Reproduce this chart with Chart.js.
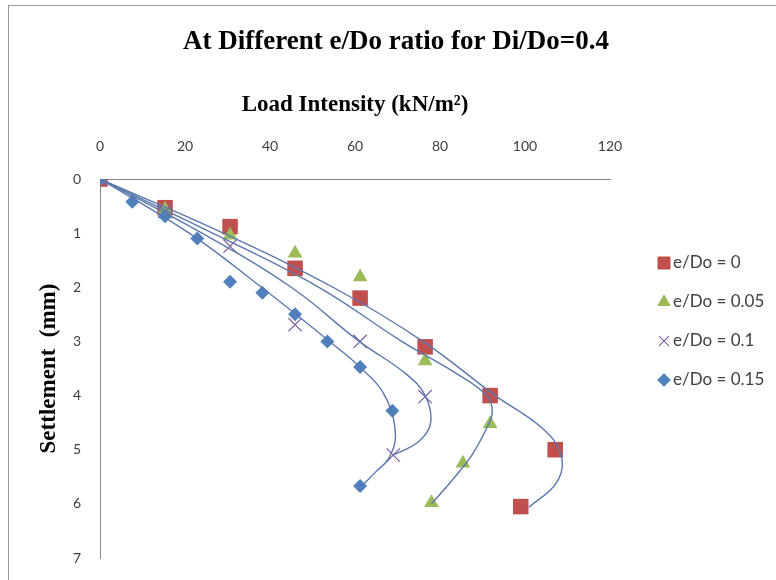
<!DOCTYPE html>
<html>
<head>
<meta charset="utf-8">
<script src="https://cdn.jsdelivr.net/npm/chart.js@4"></script>
<style>
  html, body { margin: 0; padding: 0; background: #fff; }
  #wrap { position: relative; width: 776px; height: 580px; overflow: hidden; }
  #frame { position: absolute; left: 8px; top: 5px; width: 800px; height: 600px; border-left: 1px solid #999; border-top: 1px solid #999; }
  canvas { position: absolute; left: 0; top: 0; }
</style>
</head>
<body>
<div id="wrap">
  <div id="frame"></div>
  <canvas id="myChart" width="776" height="580"></canvas>
</div>
<script>
// measured points (load kN/m2, settlement mm)
const seriesLabels = ['e/Do = 0', 'e/Do = 0.05', 'e/Do = 0.1', 'e/Do = 0.15'];

const load0 = [0, 15.3, 30.6, 45.9, 61.2, 76.5, 91.8, 107.1, 99];
const settle0 = [0, 0.53, 0.88, 1.65, 2.2, 3.1, 4.0, 5.0, 6.05];

const load005 = [0, 15.3, 30.6, 45.9, 61.2, 76.5, 91.8, 85.4, 78];
const settle005 = [0, 0.56, 1.04, 1.37, 1.81, 3.36, 4.52, 5.25, 5.98];

const load01 = [0, 15.3, 30.6, 45.9, 61.2, 76.5, 69];
const settle01 = [0, 0.6, 1.24, 2.69, 3.0, 4.02, 5.1];

const load015 = [0, 7.6, 15.3, 22.9, 30.6, 38.2, 45.9, 53.5, 61.2, 68.8, 61.2];
const settle015 = [0, 0.42, 0.69, 1.1, 1.9, 2.1, 2.5, 3.0, 3.47, 4.28, 5.67];

// trend curves
const trendLoad0 = [0, 29, 56, 76, 93, 104, 108.5, 107.5, 101];
const trendSettle0 = [0, 1, 2.05, 3, 4, 4.6, 5.1, 5.6, 6.06];

const trendLoad005 = [0, 26.5, 51.5, 71, 84, 91, 92.3, 91, 87.5, 83, 78];
const trendSettle005 = [0, 1, 2, 3, 3.6, 4.0, 4.3, 4.6, 5.1, 5.55, 6.0];

const trendLoad01 = [0, 24, 45, 61, 72, 76.5, 77.8, 75, 69];
const trendSettle01 = [0, 1, 2, 3, 3.6, 4.0, 4.5, 4.85, 5.1];

const trendLoad015 = [0, 21, 38, 54, 61.5, 67, 69.5, 68, 65, 61.2];
const trendSettle015 = [0, 1, 2, 3, 3.5, 4.0, 4.7, 5.15, 5.4, 5.7];

const colors = ['#C0504D', '#9BBB59', '#8064A2', '#4F81BD'];
const styles = ['rect', 'triangle', 'crossRot', 'rectRot'];
const radii = [11, 8.5, 9.5, 7];
const legendRadii = [8.5, 7, 7, 6];

const pts = (xs, ys) => xs.map((x, i) => ({ x: x, y: ys[i] }));

const markerData = [pts(load0, settle0), pts(load005, settle005), pts(load01, settle01), pts(load015, settle015)];
const trendData = [pts(trendLoad0, trendSettle0), pts(trendLoad005, trendSettle005), pts(trendLoad01, trendSettle01), pts(trendLoad015, trendSettle015)];

const datasets = [];
markerData.forEach((d, i) => {
  datasets.push({
    label: seriesLabels[i],
    data: d,
    pointStyle: styles[i],
    pointRadius: radii[i],
    backgroundColor: colors[i],
    borderColor: colors[i],
    borderWidth: styles[i] === 'crossRot' ? 1.3 : 0,
    showLine: false,
    order: 4 - i
  });
});
trendData.forEach((d, i) => {
  datasets.push({
    label: 'trend ' + seriesLabels[i],
    data: d,
    showLine: true,
    tension: 0.4,
    pointRadius: 0,
    borderColor: '#5b78ad',
    borderWidth: 1.4,
    order: 0
  });
});

// legend drawn at the right, like the original
const sideLegend = {
  id: 'sideLegend',
  afterDraw(chart) {
    const c = chart.ctx;
    c.save();
    seriesLabels.forEach((label, i) => {
      const y = 263 + i * 39;
      c.fillStyle = colors[i];
      c.strokeStyle = colors[i];
      c.lineWidth = styles[i] === 'crossRot' ? 1.2 : 0;
      Chart.helpers.drawPoint(c, { pointStyle: styles[i], radius: legendRadii[i], rotation: 0, borderWidth: c.lineWidth }, 664, y);
      c.fillStyle = '#404040';
      c.font = '17px Lato';
      c.textBaseline = 'middle';
      c.textAlign = 'left';
      c.fillText(label, 673, y);
    });
    c.restore();
  }
};

const ctx = document.getElementById('myChart').getContext('2d');
new Chart(ctx, {
  type: 'scatter',
  data: { datasets: datasets },
  options: {
    responsive: false,
    animation: false,
    layout: { padding: { left: 16, right: 0, top: 0, bottom: 22 } },
    plugins: {
      legend: { display: false },
      tooltip: { enabled: false },
      title: {
        display: true,
        text: 'At Different e/Do ratio for Di/Do=0.4',
        color: '#000',
        font: { family: 'Liberation Serif', size: 27, weight: 'bold' },
        padding: { top: 25.8, bottom: 0 }
      }
    },
    scales: {
      x: {
        type: 'linear',
        position: 'top',
        min: 0,
        max: 120,
        ticks: { stepSize: 20, padding: 24, color: '#404040', font: { family: 'Lato', size: 14 } },
        grid: { display: false, drawTicks: false },
        border: { color: '#888', width: 1 },
        title: {
          display: true,
          text: 'Load Intensity (kN/m²)',
          color: '#000',
          font: { family: 'Liberation Serif', size: 23, weight: 'bold' },
          padding: { top: 33, bottom: 0 }
        },
        afterFit: s => { s.height = 120.8; s.paddingLeft = 0; s.paddingRight = 0; }
      },
      y: {
        type: 'linear',
        reverse: true,
        min: 0,
        max: 7,
        ticks: { stepSize: 1, padding: 19, color: '#404040', font: { family: 'Lato', size: 14 } },
        grid: { display: false, drawTicks: false },
        border: { color: '#888', width: 1 },
        title: {
          display: true,
          text: 'Settlement  (mm)',
          color: '#000',
          font: { family: 'Liberation Serif', size: 23, weight: 'bold' },
          padding: { top: 19, bottom: 0 }
        },
        afterFit: s => { s.width = 84; s.paddingTop = 0; s.paddingBottom = 0; }
      },
      legendSpace: {
        type: 'linear',
        position: 'right',
        display: true,
        ticks: { display: false },
        grid: { display: false, drawTicks: false },
        border: { display: false },
        afterFit: s => { s.width = 166; s.paddingTop = 0; s.paddingBottom = 0; }
      }
    }
  },
  plugins: [sideLegend]
});
</script>
</body>
</html>
